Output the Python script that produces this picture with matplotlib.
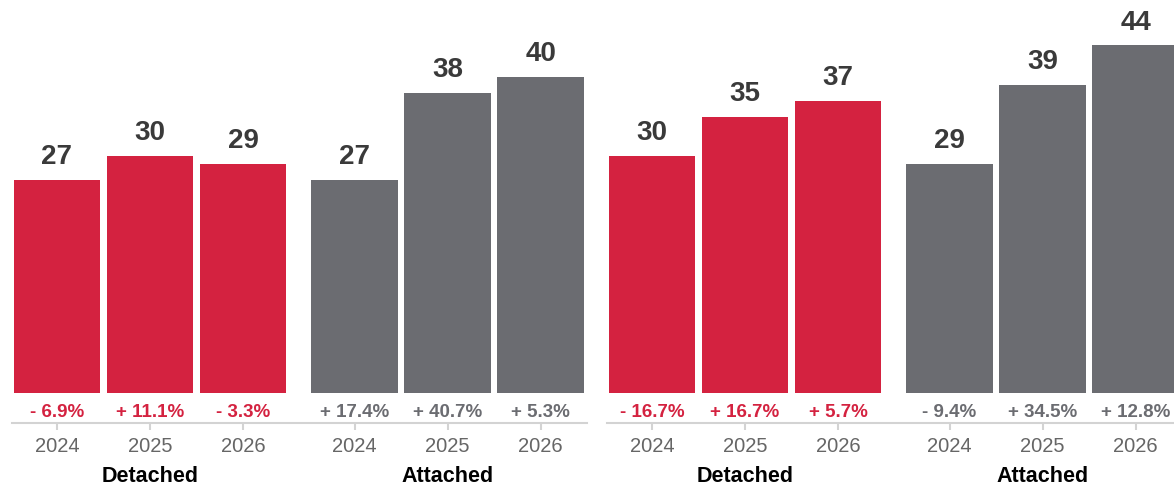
import numpy as np
import matplotlib
matplotlib.use("Agg")
import matplotlib.pyplot as plt

plt.rcParams['font.family'] = ['Liberation Sans', 'DejaVu Sans']

years = ['2024', '2025', '2026']
groups = ['Detached', 'Attached']

# left panel
left_detached = [27, 30, 29]
left_attached = [27, 38, 40]
left_detached_pct = ['- 6.9%', '+ 11.1%', '- 3.3%']
left_attached_pct = ['+ 17.4%', '+ 40.7%', '+ 5.3%']

# right panel
right_detached = [30, 35, 37]
right_attached = [29, 39, 44]
right_detached_pct = ['- 16.7%', '+ 16.7%', '+ 5.7%']
right_attached_pct = ['- 9.4%', '+ 34.5%', '+ 12.8%']

RED = '#d42240'
GRAY = '#6b6c71'
LINE = '#d3d3d3'

W, H = 1174, 490
fig = plt.figure(figsize=(W / 100, H / 100), dpi=100)

# pixel layout (from top of image)
axis_y = 423
base_y = 393
px_per_unit = 7.9
ax_h = axis_y
ylim = (-(axis_y - base_y) / px_per_unit, base_y / px_per_unit)

group_step = 3.2
bar_w = 0.935


def panel(left_px, width_px, detached, attached, det_pct, att_pct):
    ax = fig.add_axes([left_px / W, (H - axis_y) / H, width_px / W, ax_h / H])
    ax.set_ylim(*ylim)
    ax.set_xlim(-45 / 93, -45 / 93 + width_px / 93)

    xs_all = []
    series = [(detached, det_pct, RED), (attached, att_pct, GRAY)]
    for g, (vals, pcts, col) in enumerate(series):
        xs = g * group_step + np.arange(len(years))
        xs_all.extend(xs)
        ax.bar(xs, vals, width=bar_w, color=col, linewidth=0)
        for x, v, p in zip(xs, vals, pcts):
            ax.annotate(str(v), (x, v), xytext=(0, 7), textcoords='offset points',
                        ha='center', va='bottom', fontsize=20, fontweight='bold',
                        color='#3a3a3a')
            ax.text(x, -(412 - base_y) / px_per_unit, p, ha='center', va='center',
                    fontsize=13.5, fontweight='bold', color=col)
        ax.text(xs[1], -(476 - axis_y) / ax_h, groups[g], transform=ax.get_xaxis_transform(),
                ha='center', va='center', fontsize=15.5, fontweight='bold', color='black')

    ax.set_xticks(xs_all)
    ax.set_xticklabels(years * 2)
    ax.tick_params(axis='x', length=5, width=1.5, color=LINE, labelcolor='#666666',
                   labelsize=14.5, pad=5)
    ax.set_yticks([])
    for s in ['top', 'left', 'right']:
        ax.spines[s].set_visible(False)
    ax.spines['bottom'].set_color(LINE)
    ax.spines['bottom'].set_linewidth(1.5)
    return ax


panel(12, 575, left_detached, left_attached, left_detached_pct, left_attached_pct)
panel(607, 575, right_detached, right_attached, right_detached_pct, right_attached_pct)

fig.savefig('out.png', dpi=100)
